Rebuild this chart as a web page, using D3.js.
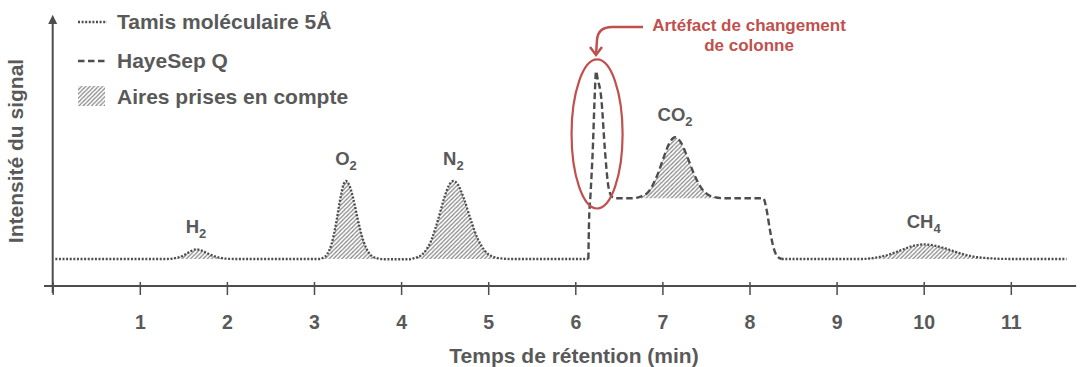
<!DOCTYPE html>
<html><head><meta charset="utf-8">
<script src="https://cdn.jsdelivr.net/npm/d3@7"></script>
<style>
body{margin:0;background:#fff}
svg{display:block}
text{font-family:"Liberation Sans",Arial,sans-serif;font-weight:bold;fill:#595959}
</style>
</head><body>
<svg id="c" width="1082" height="367"></svg>
<script>
// ---------- data (time in min, signal in arbitrary units) ----------
const xTicks = [0,1,2,3,4,5,6,7,8,9,10,11];
const tickLabels = ["","1","2","3","4","5","6","7","8","9","10","11"];

// Tamis moléculaire 5Å (dotted), first part: H2, O2, N2
const tamisA = [
  [0.03,1.0],[1.3,1.0],[1.4,1.03],[1.5,1.13],[1.57,1.26],[1.645,1.36],[1.72,1.30],[1.8,1.17],[1.9,1.06],[2.0,1.01],[2.1,1.0],
  [3.05,1.0],[3.10,1.04],[3.15,1.17],[3.20,1.54],[3.25,2.26],[3.30,3.20],[3.34,3.77],[3.367,3.89],[3.40,3.77],[3.45,3.25],[3.50,2.51],[3.55,1.85],[3.60,1.40],[3.65,1.15],[3.70,1.05],[3.75,1.01],[3.80,0.99],
  [4.10,0.99],[4.15,1.03],[4.25,1.19],[4.35,1.72],[4.42,2.41],[4.50,3.31],[4.55,3.73],[4.60,3.89],[4.65,3.77],[4.72,3.25],[4.80,2.45],[4.88,1.75],[4.96,1.31],[5.05,1.09],[5.15,1.02],[5.25,1.0],
  [6.15,1.0]
];
// HayeSep Q (dashed): column-switch artefact, CO2 on plateau, drop
const hayesep = [
  [6.15,1.0],[6.158,2.4],[6.175,3.4],[6.2,5.0],[6.225,7.2],[6.238,7.96],[6.255,7.7],[6.30,6.9],[6.34,5.04],[6.38,3.68],[6.42,3.31],[6.46,3.25],
  [6.65,3.25],[6.75,3.31],[6.85,3.53],[6.95,4.17],[7.02,4.81],[7.08,5.29],[7.145,5.51],[7.21,5.33],[7.28,4.83],[7.36,4.17],[7.44,3.66],[7.52,3.39],[7.60,3.29],[7.70,3.25],
  [8.158,3.25],[8.197,2.81],[8.235,2.07],[8.273,1.46],[8.319,1.09],[8.37,1.0]
];
// Tamis moléculaire 5Å (dotted), second part: CH4
const tamisB = [
  [8.37,1.0],[9.3,1.0],[9.45,1.05],[9.6,1.16],[9.75,1.34],[9.88,1.486],[10.0,1.54],[10.12,1.50],[10.25,1.39],[10.4,1.23],[10.55,1.10],[10.7,1.04],[10.85,1.01],[11.0,1.0],[11.64,1.0]
];
// hatched areas: [start, end, base level, series]
const hatchStart = [1.3, 3.05, 4.10, 6.65, 9.3];
const hatchEnd   = [2.1, 3.80, 5.25, 7.70, 11.0];
const hatchBase  = [1.0, 1.0, 1.0, 3.25, 1.0];
const hatchSeries= ["A","A","A","H","B"];

const peakNames = ["H","O","N","CO","CH"];
const peakSubs  = ["2","2","2","2","4"];
const peakTimes = [1.645, 3.367, 4.60, 7.145, 10.0];
const peakVals  = [1.36, 3.89, 3.89, 5.51, 1.54];

const legendLabels = ["Tamis moléculaire 5Å","HayeSep Q","Aires prises en compte"];
const annotationLines = ["Artéfact de changement","de colonne"];

// ---------- drawing ----------
const svg = d3.select("#c");
const x = d3.scaleLinear().domain([0,11]).range([52.7,1010.8]);
const y = d3.scaleLinear().domain([0,10]).range([286,16]);
const seriesMap = {A:tamisA, H:hayesep, B:tamisB};
const ink = "#4d4d4d", red = "#c0504d";

const defs = svg.append("defs");
const pat = defs.append("pattern").attr("id","hatch").attr("patternUnits","userSpaceOnUse")
  .attr("width",4.2).attr("height",4.2);
pat.append("path").attr("d","M-1,1.1 L1.1,-1 M0,4.2 L4.2,0 M3.1,5.2 L5.2,3.1")
  .attr("stroke","#808080").attr("stroke-width",1.1);

const line = d3.line().x(d=>x(d[0])).y(d=>y(d[1])).curve(d3.curveMonotoneX);

// hatched areas
hatchStart.forEach((s,i)=>{
  const pts = seriesMap[hatchSeries[i]].filter(d=>d[0]>=s-1e-9 && d[0]<=hatchEnd[i]+1e-9);
  const area = d3.area().x(d=>x(d[0])).y0(y(hatchBase[i])).y1(d=>y(d[1])).curve(d3.curveMonotoneX);
  svg.append("path").attr("d",area(pts)).attr("fill","url(#hatch)");
});

// axes
const gx = svg.append("g").attr("transform",`translate(0,${y(0)})`)
  .call(d3.axisBottom(x).tickValues(xTicks).tickFormat((d,i)=>tickLabels[i]).tickSizeOuter(0).tickSizeInner(9).tickPadding(20));
gx.select(".domain").remove();
gx.selectAll(".tick line").attr("y1",-4).attr("y2",9).attr("stroke",ink).attr("stroke-width",1.5);
gx.selectAll(".tick text").style("font-size","19.5px").attr("fill","#595959")
  .style("font-family","'Liberation Sans',Arial,sans-serif").style("font-weight","bold");
svg.append("line").attr("x1",x(-0.1)).attr("x2",x(11.75)).attr("y1",y(0)).attr("y2",y(0))
  .attr("stroke",ink).attr("stroke-width",2);
svg.append("line").attr("x1",x(0)).attr("x2",x(0)).attr("y1",y(0)+7).attr("y2",y(9.7))
  .attr("stroke",ink).attr("stroke-width",2);
svg.append("path").attr("d",`M${x(0)},${y(10.05)} L${x(0)-4.5},${y(9.7)} L${x(0)+4.5},${y(9.7)} Z`).attr("fill",ink);

// signal lines
svg.append("path").attr("d",line(tamisA)).attr("fill","none").attr("stroke",ink)
  .attr("stroke-width",2.3).attr("stroke-dasharray","2,1.6");
svg.append("path").attr("d",line(tamisB)).attr("fill","none").attr("stroke",ink)
  .attr("stroke-width",2.3).attr("stroke-dasharray","2,1.6");
svg.append("path").attr("d",line(hayesep)).attr("fill","none").attr("stroke",ink)
  .attr("stroke-width",2.4).attr("stroke-dasharray","6.5,3.5");

// peak labels
peakNames.forEach((n,i)=>{
  const t = svg.append("text").attr("x",x(peakTimes[i])).attr("y",y(peakVals[i])-16)
    .attr("text-anchor","middle").style("font-size","18.5px").text(n);
  t.append("tspan").attr("dy",5).style("font-size","13px").text(peakSubs[i]);
});

// axis titles
svg.append("text").attr("x",574).attr("y",363).attr("text-anchor","middle")
  .style("font-size","21px").text("Temps de rétention (min)");
svg.append("text").attr("transform","translate(23,151) rotate(-90)").attr("text-anchor","middle")
  .style("font-size","21px").text("Intensité du signal");

// legend
const lg = svg.append("g");
lg.append("line").attr("x1",78).attr("x2",107).attr("y1",22).attr("y2",22)
  .attr("stroke",ink).attr("stroke-width",2.3).attr("stroke-dasharray","2,1.6");
lg.append("line").attr("x1",78).attr("x2",107).attr("y1",61).attr("y2",61)
  .attr("stroke",ink).attr("stroke-width",2.4).attr("stroke-dasharray","6.5,3.5");
lg.append("rect").attr("x",78).attr("y",86).attr("width",27).attr("height",20).attr("fill","url(#hatch)");
[29,68,104].forEach((yy,i)=>{
  lg.append("text").attr("x",117).attr("y",yy).style("font-size","21px").text(legendLabels[i]);
});

// annotation: ellipse around artefact, arrow and text
svg.append("ellipse").attr("cx",x(6.25)).attr("cy",y(5.63))
  .attr("rx",x(6.25)-x(5.957)).attr("ry",y(2.87)-y(5.63))
  .attr("fill","none").attr("stroke",red).attr("stroke-width",2.2);
svg.append("path").attr("d","M643,27 L612,27 Q598,27 597,40 L596,55")
  .attr("fill","none").attr("stroke",red).attr("stroke-width",2.5);
svg.append("path").attr("d","M590,47 L596,55 L602,47")
  .attr("fill","none").attr("stroke",red).attr("stroke-width",2.5);
annotationLines.forEach((s,i)=>{
  svg.append("text").attr("x",749).attr("y",31+i*20).attr("text-anchor","middle")
    .style("font-size","17px").style("fill",red).text(s);
});
</script>
</body></html>
